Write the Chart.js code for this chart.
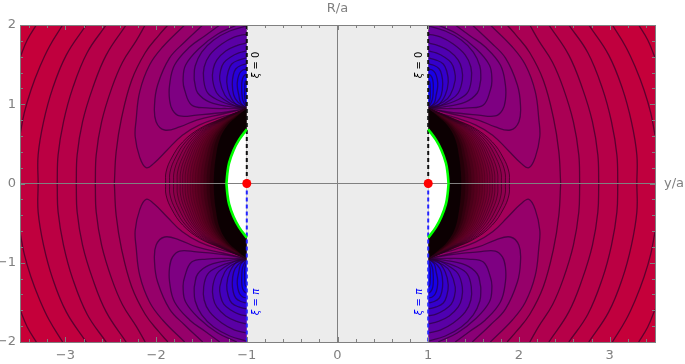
<!DOCTYPE html>
<html>
<head>
<meta charset="utf-8">
<style>
  html, body { margin: 0; background: #fff; }
  canvas { display: block; }
</style>
<script src="https://cdn.jsdelivr.net/npm/chart.js@4"></script>
</head>
<body>
<canvas id="plot" width="685" height="364"></canvas>
<script>
// one quadrant (y/a < -1, R/a > 0), the others are its mirror images
const outerContours = [
  [[-3.5,1.59],[-3.42,1.81],[-3.32,2]],
  [[-3.5,.61],[-3.453,.89],[-3.379,1.18],[-3.287,1.457],[-3.177,1.726],[-3.03,2]],
  [[-3.3,0],[-3.3,.36],[-3.24,.78],[-3.14,1.2],[-2.99,1.62],[-2.77,2]],
  [[-3.09,0],[-3.08,.36],[-3.02,.78],[-2.92,1.2],[-2.76,1.65],[-2.55,2]],
  [[-2.88,0],[-2.87,.36],[-2.81,.78],[-2.7,1.2],[-2.55,1.62],[-2.33,2]],
  [[-2.67,0],[-2.66,.36],[-2.6,.78],[-2.49,1.2],[-2.37,1.53],[-2.22,1.8],[-2.12,2]],
  [[-2.46,0],[-2.44,.4],[-2.38,.83],[-2.27,1.3],[-2.12,1.65],[-1.97,1.87],[-1.87,2]]
];
const outerCorners = [
  [[-1,2],[-1,0],[-3.5,0]],
  [[-1,2],[-1,0],[-3.5,0]],
  [[-1,2],[-1,0]],
  [[-1,2],[-1,0]],
  [[-1,2],[-1,0]],
  [[-1,2],[-1,0]],
  [[-1,2],[-1,0]]
];
const outerColors = ['#c5003a', '#c0003e', '#bb0043', '#b60048', '#b0004e', '#aa0054', '#a3005a'];

const blueContours = [
  [[-1.685,2],[-1.928,1.722],[-2.072,1.495],[-2.18,1.16],[-2.22,.8],[-2.23,.59],[-2.18,.33],[-2.11,.2],[-2.02,.26],[-1.88,.42],[-1.71,.61],[-1.52,.74],[-1.3,.83],[-1.08,.9],[-1,.95]],
  [[-1.486,2],[-1.685,1.785],[-1.851,1.584],[-1.983,1.243],[-2.017,.99],[-2,.78],[-1.906,.675],[-1.74,.713],[-1.552,.801],[-1.265,.877],[-1,.95]],
  [[-1.298,2],[-1.464,1.861],[-1.63,1.722],[-1.796,1.495],[-1.851,1.243],[-1.851,1.054],[-1.818,.927],[-1.74,.852],[-1.552,.864],[-1.221,.902],[-1,.95]],
  [[-1.11,2],[-1.32,1.886],[-1.519,1.71],[-1.674,1.495],[-1.702,1.306],[-1.685,1.18],[-1.608,.991],[-1.442,.953],[-1.221,.946],[-1,.95]],
  [[-1,1.99],[-1.188,1.924],[-1.365,1.811],[-1.497,1.659],[-1.569,1.483],[-1.58,1.331],[-1.575,1.281],[-1.541,1.142],[-1.409,1.028],[-1.155,.965],[-1,.95]],
  [[-1,1.886],[-1.133,1.849],[-1.276,1.76],[-1.409,1.621],[-1.47,1.47],[-1.475,1.306],[-1.431,1.142],[-1.32,1.054],[-1.133,.978],[-1,.95]],
  [[-1,1.773],[-1.11,1.741],[-1.232,1.672],[-1.331,1.558],[-1.37,1.445],[-1.376,1.306],[-1.331,1.142],[-1.243,1.054],[-1.122,.978],[-1,.95]],
  [[-1,1.672],[-1.088,1.647],[-1.177,1.596],[-1.254,1.521],[-1.287,1.432],[-1.298,1.306],[-1.243,1.117],[-1.166,1.028],[-1,.95]],
  [[-1,1.584],[-1.088,1.558],[-1.166,1.508],[-1.204,1.42],[-1.221,1.281],[-1.188,1.117],[-1.11,.991],[-1,.95]],
  [[-1,1.508],[-1.066,1.489],[-1.122,1.445],[-1.149,1.369],[-1.16,1.255],[-1.144,1.117],[-1.099,1.028],[-1,.95]],
  [[-1,1.445],[-1.044,1.432],[-1.077,1.394],[-1.099,1.319],[-1.105,1.23],[-1.088,1.117],[-1.066,1.016],[-1,.95]],
  [[-1,1.382],[-1.022,1.369],[-1.044,1.331],[-1.055,1.268],[-1.055,1.155],[-1.044,1.054],[-1,.95]],
  [[-1,1.306],[-1.017,1.281],[-1.022,1.205],[-1.022,1.079],[-1,.95]]
];
const blueColors = ['#96006a', '#8a0076', '#7e0082', '#72008e', '#660098', '#5a00a5', '#4e00b1', '#4200bd', '#3400cb', '#2600d9', '#1800e7', '#0c00f3', '#0000ff'];

const darkContours = [
  [[-1.895,0],[-1.89,.145],[-1.829,.322],[-1.707,.524],[-1.519,.694],[-1.298,.808],[-1,.95]],
  [[-1.851,0],[-1.846,.145],[-1.788,.322],[-1.673,.527],[-1.494,.698],[-1.283,.811],[-1,.95]],
  [[-1.807,0],[-1.802,.145],[-1.748,.322],[-1.639,.53],[-1.467,.702],[-1.267,.814],[-1,.95]],
  [[-1.768,0],[-1.763,.145],[-1.712,.322],[-1.609,.532],[-1.445,.704],[-1.253,.816],[-1,.95]],
  [[-1.735,0],[-1.73,.145],[-1.682,.322],[-1.583,.535],[-1.425,.708],[-1.242,.819],[-1,.95]],
  [[-1.707,0],[-1.702,.145],[-1.656,.322],[-1.562,.538],[-1.41,.709],[-1.232,.821],[-1,.95]],
  [[-1.68,0],[-1.675,.145],[-1.631,.322],[-1.541,.539],[-1.393,.712],[-1.222,.823],[-1,.95]],
  [[-1.652,0],[-1.647,.145],[-1.606,.322],[-1.52,.541],[-1.378,.714],[-1.212,.825],[-1,.95]],
  [[-1.624,0],[-1.619,.145],[-1.581,.322],[-1.498,.543],[-1.361,.717],[-1.202,.826],[-1,.95]],
  [[-1.597,0],[-1.592,.145],[-1.555,.322],[-1.477,.545],[-1.345,.719],[-1.192,.829],[-1,.95]],
  [[-1.569,0],[-1.564,.145],[-1.529,.322],[-1.455,.546],[-1.329,.722],[-1.182,.83],[-1,.95]],
  [[-1.541,0],[-1.536,.145],[-1.505,.322],[-1.434,.549],[-1.313,.723],[-1.173,.833],[-1,.95]],
  [[-1.508,0],[-1.503,.145],[-1.474,.322],[-1.409,.551],[-1.294,.727],[-1.161,.835],[-1,.95]],
  [[-1.475,0],[-1.47,.145],[-1.444,.322],[-1.385,.554],[-1.275,.729],[-1.15,.838],[-1,.95]],
  [[-1.442,0],[-1.437,.145],[-1.413,.322],[-1.358,.556],[-1.255,.732],[-1.138,.84],[-1,.95]],
  [[-1.409,0],[-1.404,.145],[-1.383,.322],[-1.333,.558],[-1.235,.734],[-1.126,.842],[-1,.95]],
  [[-1.365,0],[-1.36,.145],[-1.343,.322],[-1.298,.562],[-1.21,.738],[-1.11,.845],[-1,.95]]
];
const darkColors = ['#940055', '#8f004e', '#8a0048', '#850042', '#80003d', '#7b0038', '#760033', '#70002e', '#6a0029', '#640025', '#5d0021', '#55001d', '#4c0019', '#410014', '#34000f', '#260009', '#0c0002'];
const darkLineColors = ['rgba(40,0,25,.7)', 'rgba(40,0,25,.65)', 'rgba(40,0,25,.6)', 'rgba(40,0,25,.55)', 'rgba(40,0,25,.5)', 'rgba(40,0,25,.45)', 'rgba(40,0,25,.4)', 'rgba(40,0,25,.35)', 'rgba(40,0,25,.3)', 'rgba(40,0,25,.25)', 'rgba(40,0,25,.2)', 'rgba(40,0,25,.15)', 'rgba(40,0,25,.1)', 'rgba(40,0,25,.1)', 'rgba(40,0,25,.1)', 'rgba(40,0,25,.1)', 'rgba(40,0,25,.1)'];

const arcPoints = [[-1.224,0],[-1.214,.13],[-1.195,.26],[-1.146,.42],[-1.086,.55],[-1,.685]];
const slabCorners = [[-1,-2],[1,-2],[1,2],[-1,2]];
const poles = [[-1,0],[1,0]];
const xTicks = [-3, -2, -1, 0, 1, 2, 3];
const yTicks = [-2, -1, 0, 1, 2];
const xMinor = [-3.4,-3.2,-2.8,-2.6,-2.4,-2.2,-1.8,-1.6,-1.4,-1.2,-.8,-.6,-.4,-.2,.2,.4,.6,.8,1.2,1.4,1.6,1.8,2.2,2.4,2.6,2.8,3.2,3.4];
const yMinor = [-1.8,-1.6,-1.4,-1.2,-.8,-.6,-.4,-.2,.2,.4,.6,.8,1.2,1.4,1.6,1.8];

const GREY = '#808080';
const quadrants = [[1, 1], [1, -1], [-1, 1], [-1, -1]];

function toPoints(list, sx, sy) {
    return list.map(([x, y]) => ({ x: x * sx, y: y * sy }));
}

// doubled points keep the spline straight along the closing edges
function closeShape(list, corners) {
    const last = list[list.length - 1];
    const out = [...list, last];
    corners.forEach(c => out.push(c, c));
    out.push(list[0]);
    return out;
}

const datasets = [];

function addFill(list, color, tension) {
    datasets.push({
        data: list, showLine: true, fill: 'shape', backgroundColor: color, borderColor: 'transparent',
        borderWidth: 0, pointRadius: 0, tension: tension
    });
}

function addLine(list, color, width, dash, tension) {
    datasets.push({
        data: list, showLine: true, fill: false, borderColor: color, borderWidth: width,
        borderDash: dash || [], pointRadius: 0, tension: tension || 0
    });
}

// base colour, then bands from the outside in
addFill(toPoints([[-3.5,-2],[3.5,-2],[3.5,2],[-3.5,2]], 1, 1), '#c80037', 0);
quadrants.forEach(([sx, sy]) => {
    outerContours.forEach((c, i) => addFill(toPoints(closeShape(c, outerCorners[i]), sx, sy), outerColors[i], .4));
    blueContours.forEach((c, i) => addFill(toPoints(closeShape(c, [[-1, 2]]), sx, sy), blueColors[i], .4));
    darkContours.forEach((c, i) => addFill(toPoints(closeShape(c, [[-1, 0]]), sx, sy), darkColors[i], .4));
});
quadrants.forEach(([sx, sy]) => {
    outerContours.forEach(c => addLine(toPoints(c, sx, sy), 'rgba(50,0,40,.7)', 1.3, null, .4));
    blueContours.forEach(c => addLine(toPoints(c, sx, sy), 'rgba(40,0,50,.65)', 1.3, null, .4));
    darkContours.forEach((c, i) => addLine(toPoints(c, sx, sy), darkLineColors[i], 1, null, .4));
});
// hole behind the green arc and the grey slab between the two planes
quadrants.forEach(([sx, sy]) => addFill(toPoints(closeShape(arcPoints, [[-1, 0]]), sx, sy), '#ffffff', .4));
addFill(toPoints(slabCorners, 1, 1), '#ececec', 0);
addLine(toPoints([[-3.5,0],[3.5,0]], 1, 1), GREY, 1);
addLine(toPoints([[0,-2],[0,2]], 1, 1), GREY, 1);
[-1, 1].forEach(s => {
    addLine(toPoints([[1,2],[1,0]], s, 1), '#111111', 2, [4, 3]);
    addLine(toPoints([[1,0],[1,-2]], s, 1), '#2222ff', 2, [4, 3]);
});
quadrants.forEach(([sx, sy]) => addLine(toPoints(arcPoints, sx, sy), '#00ff00', 2.6, null, .4));
datasets.push({
    data: toPoints(poles, 1, 1), showLine: false, pointRadius: 4.5, pointBackgroundColor: '#ff0000',
    pointBorderWidth: 0
});
// first dataset paints on top otherwise
datasets.forEach((d, i) => { d.order = datasets.length - i; });

function fmtTick(v) {
    return v < 0 ? '\u2212' + Math.abs(v) : String(v);
}

// frame, inward ticks and the loose labels
const framePlugin = {
    id: 'frame',
    afterDatasetsDraw(chart) {
        const { ctx, chartArea: a, scales: { x, y } } = chart;
        ctx.save();
        ctx.strokeStyle = GREY;
        ctx.lineWidth = 1;
        const tick = (x1, y1, x2, y2) => {
            ctx.beginPath();
            ctx.moveTo(x1, y1);
            ctx.lineTo(x2, y2);
            ctx.stroke();
        };
        const vTicks = (vals, len) => vals.forEach(v => {
            const p = Math.round(x.getPixelForValue(v)) + .5;
            tick(p, a.bottom, p, a.bottom - len);
            tick(p, a.top, p, a.top + len);
        });
        const hTicks = (vals, len) => vals.forEach(v => {
            const p = Math.round(y.getPixelForValue(v)) + .5;
            tick(a.left, p, a.left + len, p);
            tick(a.right, p, a.right - len, p);
        });
        vTicks(xTicks, 5);
        vTicks(xMinor, 3);
        hTicks(yTicks, 5);
        hTicks(yMinor, 3);
        ctx.strokeRect(a.left + .5, a.top + .5, a.right - a.left, a.bottom - a.top);

        ctx.fillStyle = GREY;
        ctx.font = "13px 'DejaVu Sans'";
        ctx.textAlign = 'center';
        ctx.textBaseline = 'middle';
        ctx.fillText('R/a', x.getPixelForValue(0), 8.5);
        ctx.fillText('y/a', 674, y.getPixelForValue(0));

        const planeLabel = (vx, vy, tail, color, tailFont) => {
            ctx.save();
            ctx.translate(x.getPixelForValue(vx), y.getPixelForValue(vy));
            ctx.rotate(-Math.PI / 2);
            ctx.fillStyle = color;
            ctx.textBaseline = 'middle';
            ctx.textAlign = 'left';
            ctx.font = "italic 10px 'DejaVu Sans'";
            const w1 = ctx.measureText('\u03be').width;
            ctx.font = tailFont;
            const w2 = ctx.measureText(tail).width;
            const start = -(w1 + w2) / 2;
            ctx.font = "italic 10px 'DejaVu Sans'";
            ctx.fillText('\u03be', start, 0);
            ctx.font = tailFont;
            ctx.fillText(tail, start + w1, 0);
            ctx.restore();
        };
        planeLabel(-.895, 1.495, ' = 0', '#000000', "10px 'DejaVu Sans'");
        planeLabel(.9, 1.495, ' = 0', '#000000', "10px 'DejaVu Sans'");
        planeLabel(-.895, -1.495, ' = \u03c0', '#0000ff', "italic 10px 'DejaVu Sans'");
        planeLabel(.9, -1.495, ' = \u03c0', '#0000ff', "italic 10px 'DejaVu Sans'");
        ctx.restore();
    }
};

new Chart(document.getElementById('plot'), {
    type: 'scatter',
    data: { datasets },
    plugins: [framePlugin],
    options: {
        responsive: false,
        animation: false,
        events: [],
        layout: { padding: { top: 25, right: 30, left: 0, bottom: 0 } },
        plugins: { legend: { display: false }, tooltip: { enabled: false } },
        scales: {
            x: {
                type: 'linear', min: -3.5, max: 3.5,
                afterBuildTicks: s => { s.ticks = xTicks.map(v => ({ value: v })); },
                afterFit: s => { s.height = 22; },
                grid: { display: false, drawTicks: false },
                border: { display: false },
                ticks: { color: GREY, font: { family: "'DejaVu Sans'", size: 13 }, padding: 6, maxRotation: 0, autoSkip: false, callback: fmtTick }
            },
            y: {
                type: 'linear', min: -2, max: 2,
                afterBuildTicks: s => { s.ticks = yTicks.map(v => ({ value: v })); },
                afterFit: s => { s.width = 20; },
                grid: { display: false, drawTicks: false },
                border: { display: false },
                ticks: { color: GREY, font: { family: "'DejaVu Sans'", size: 13 }, padding: 4, autoSkip: false, callback: fmtTick }
            }
        }
    }
});
</script>
</body>
</html>
